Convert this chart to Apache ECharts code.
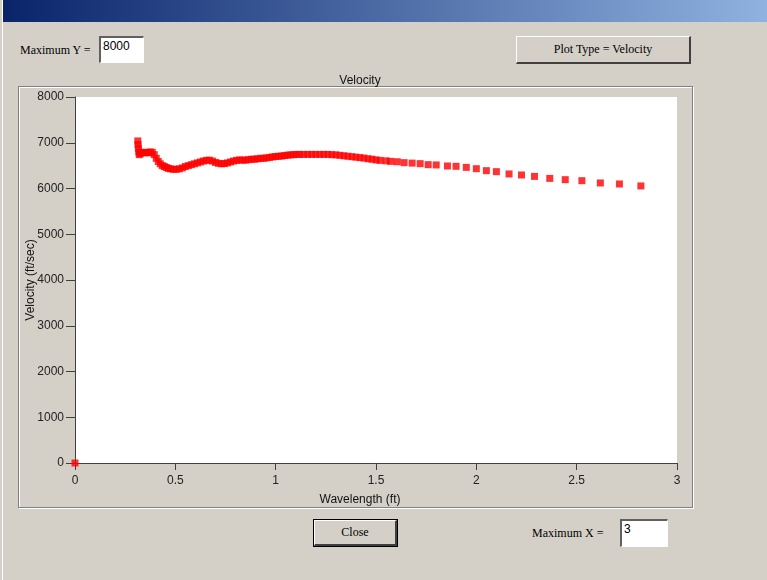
<!DOCTYPE html>
<html>
<head>
<meta charset="utf-8">
<script src="https://cdn.jsdelivr.net/npm/echarts@6/dist/echarts.min.js"></script>
<style>
  html, body { margin: 0; padding: 0; }
  body { width: 767px; height: 580px; background: #d4d0c8; position: relative; overflow: hidden; }
  .titlebar { position: absolute; left: 3px; top: 0; width: 764px; height: 22px;
    background: linear-gradient(to right, #0a246a, #8fb2e0); }
  .edge { position: absolute; left: 0; top: 0; width: 3px; height: 580px; background: #d4d0c8; border-right: 1px solid #ffffff; box-sizing: border-box; }
  .lbl { position: absolute; font-family: "Liberation Serif", "DejaVu Serif", serif; font-size: 12px; color: #000; }
  .box { position: absolute; background: #fff; box-sizing: border-box;
    border-top: 2px solid #606060; border-left: 2px solid #606060;
    border-bottom: 1px solid #ffffff; border-right: 1px solid #ffffff;
    font-family: "Liberation Sans", Arial, sans-serif; font-size: 12px; padding: 1px 2px; }
  .btn { position: absolute; background: #d4d0c8; box-sizing: border-box;
    border-top: 1px solid #ffffff; border-left: 1px solid #ffffff;
    border-bottom: 2px solid #404040; border-right: 2px solid #404040;
    font-family: "Liberation Serif", "DejaVu Serif", serif; font-size: 12px;
    display: flex; align-items: center; justify-content: center; }
  .btn.def { outline: 1px solid #000; }
  .panel { position: absolute; left: 18px; top: 86px; width: 675px; height: 422px; box-sizing: border-box;
    border: 1px solid #808080; box-shadow: inset 1px 1px 0 #ffffff, 1px 1px 0 #ffffff; }
  #chart { position: absolute; left: 0; top: 0; width: 767px; height: 580px; }
</style>
</head>
<body>
<div class="edge"></div>
<div class="titlebar"></div>
<div class="lbl" style="left:20px; top:43px;">Maximum Y =</div>
<div class="box" style="left:99px; top:36px; width:45px; height:27px;">8000</div>
<div class="btn" style="left:516px; top:36px; width:175px; height:28px;">Plot Type = Velocity</div>
<div class="panel"></div>
<div class="btn def" style="left:314px; top:520px; width:83px; height:26px;">Close</div>
<div class="lbl" style="left:532px; top:526px;">Maximum X =</div>
<div class="box" style="left:620px; top:519px; width:48px; height:28px;">3</div>
<div id="chart"></div>
<script>
// wavelength (ft) / velocity (ft/sec)
const wavelength = [
  0,
  0.313, 0.314, 0.316, 0.318, 0.32, 0.325, 0.335, 0.345, 0.355, 0.365, 0.375, 0.385, 0.395,
  0.405, 0.415, 0.425, 0.435, 0.445, 0.455, 0.465, 0.475, 0.49, 0.505, 0.52, 0.535, 0.55,
  0.565, 0.58, 0.595, 0.61, 0.625, 0.64, 0.655, 0.67, 0.685, 0.70, 0.715, 0.73, 0.745, 0.76,
  0.775, 0.79, 0.805, 0.82, 0.835, 0.85, 0.865, 0.88, 0.895, 0.91, 0.925, 0.94, 0.955, 0.97,
  0.985, 1.0, 1.015, 1.03, 1.045, 1.06, 1.075, 1.09, 1.105, 1.12, 1.14, 1.16, 1.18, 1.20,
  1.22, 1.24, 1.26, 1.28, 1.30, 1.32, 1.34, 1.36, 1.38, 1.40, 1.42, 1.44, 1.46, 1.48, 1.50,
  1.52, 1.55, 1.573, 1.606, 1.64, 1.68, 1.72, 1.76, 1.80, 1.856, 1.899, 1.95, 2.0, 2.05,
  2.10, 2.163, 2.225, 2.29, 2.366, 2.443, 2.526, 2.618, 2.713, 2.82
];
const velocity = [
  0,
  7040, 6960, 6880, 6800, 6740, 6760, 6790, 6780, 6790, 6780, 6800, 6790, 6740,
  6660, 6590, 6540, 6500, 6480, 6460, 6440, 6430, 6420, 6420, 6430, 6450, 6480,
  6500, 6520, 6540, 6560, 6580, 6600, 6615, 6620, 6600, 6570, 6550, 6540, 6545, 6560,
  6580, 6600, 6615, 6625, 6620, 6620, 6630, 6640, 6640, 6650, 6660, 6660, 6670, 6680,
  6690, 6700, 6705, 6710, 6720, 6730, 6735, 6740, 6745, 6745, 6745, 6745, 6745, 6745,
  6745, 6745, 6745, 6740, 6735, 6725, 6715, 6705, 6695, 6685, 6675, 6665, 6650, 6640, 6625,
  6615, 6605, 6593, 6585, 6565, 6555, 6543, 6521, 6515, 6492, 6485, 6462, 6433, 6390,
  6368, 6318, 6296, 6265, 6221, 6193, 6171, 6121, 6099, 6056
];
const xTicks = [0, 0.5, 1, 1.5, 2, 2.5, 3];
const yMax = 8000;

const points = wavelength.map((w, i) => [w, velocity[i]]);

const chart = echarts.init(document.getElementById("chart"), null, { renderer: "canvas" });

const axisColor = "#404040";
const labelFont = { fontFamily: "Liberation Sans, Arial, sans-serif", fontSize: 12, color: "#222" };

chart.setOption({
  backgroundColor: "transparent",
  animation: false,
  title: [
    { text: "Velocity", left: 355, top: 70, textAlign: "center",
      textStyle: { ...labelFont, fontWeight: "normal", color: "#111" } },
    { text: "Wavelength (ft)", left: 355, top: 489, textAlign: "center",
      textStyle: { ...labelFont, fontWeight: "normal", color: "#111" } },
  ],
  grid: { left: 75, top: 97, width: 602, height: 366, show: true, backgroundColor: "#ffffff", borderWidth: 0 },
  xAxis: {
    type: "value",
    min: xTicks[0],
    max: xTicks[xTicks.length - 1],
    interval: 0.5,
    splitLine: { show: false },
    axisLine: { show: true, onZero: false, lineStyle: { color: axisColor, width: 1 } },
    axisTick: { show: true, inside: false, length: 7, lineStyle: { color: axisColor } },
    axisLabel: { ...labelFont, margin: 12, showMaxLabel: true, showMinLabel: true },
  },
  yAxis: {
    type: "value",
    min: 0,
    max: yMax,
    interval: 1000,
    name: "Velocity (ft/sec)",
    nameLocation: "middle",
    nameRotate: 90,
    nameGap: 38,
    nameMoveOverlap: false,
    nameTextStyle: { ...labelFont, color: "#111" },
    splitLine: { show: false },
    axisLine: { show: true, lineStyle: { color: axisColor, width: 1 } },
    axisTick: { show: true, inside: false, length: 9, lineStyle: { color: axisColor } },
    axisLabel: { ...labelFont, margin: 11, formatter: (v) => String(v) },
  },
  series: [{
    type: "scatter",
    data: points,
    symbol: "rect",
    symbolSize: 7,
    clip: false,
    itemStyle: { color: "#ff0000" },
  }],
});
</script>
</body>
</html>
